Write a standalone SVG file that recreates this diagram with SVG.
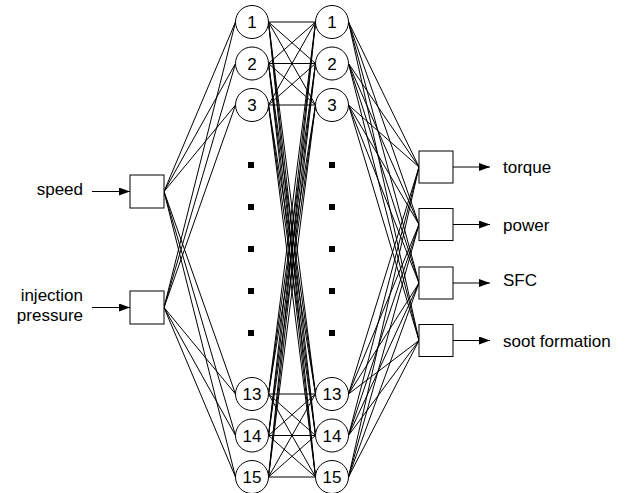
<svg xmlns="http://www.w3.org/2000/svg" width="628" height="493" viewBox="0 0 628 493">
<style>
text{font-family:"Liberation Sans",Arial,sans-serif;font-size:17px;fill:#000}
.n{text-anchor:middle}
.r{text-anchor:end}
circle,rect{fill:#fff;stroke:#000;stroke-width:1}
.c{fill:none;stroke:#000;stroke-width:1}
.dot{fill:#000}
</style>
<defs>
<marker id="ah" markerWidth="12" markerHeight="8" refX="11" refY="4" orient="auto" markerUnits="userSpaceOnUse">
<path d="M0 0L11 4L0 8z" fill="#000"/>
</marker>
</defs>
<g id="connectors">
<path class="c" d="M164 191.5L235.5 22M164 191.5L235.5 63.5M164 191.5L235.5 105M164 191.5L235.5 394M164 191.5L235.5 435.5M164 191.5L235.5 477"/>
<path class="c" d="M164 307.5L235.5 22M164 307.5L235.5 63.5M164 307.5L235.5 105M164 307.5L235.5 394M164 307.5L235.5 435.5M164 307.5L235.5 477"/>
<path class="c" d="M268.5 22L315.5 22M268.5 22L315.5 63.5M268.5 22L315.5 105M268.5 22L315.5 394M268.5 22L315.5 435.5M268.5 22L315.5 477"/>
<path class="c" d="M268.5 63.5L315.5 22M268.5 63.5L315.5 63.5M268.5 63.5L315.5 105M268.5 63.5L315.5 394M268.5 63.5L315.5 435.5M268.5 63.5L315.5 477"/>
<path class="c" d="M268.5 105L315.5 22M268.5 105L315.5 63.5M268.5 105L315.5 105M268.5 105L315.5 394M268.5 105L315.5 435.5M268.5 105L315.5 477"/>
<path class="c" d="M268.5 394L315.5 22M268.5 394L315.5 63.5M268.5 394L315.5 105M268.5 394L315.5 394M268.5 394L315.5 435.5M268.5 394L315.5 477"/>
<path class="c" d="M268.5 435.5L315.5 22M268.5 435.5L315.5 63.5M268.5 435.5L315.5 105M268.5 435.5L315.5 394M268.5 435.5L315.5 435.5M268.5 435.5L315.5 477"/>
<path class="c" d="M268.5 477L315.5 22M268.5 477L315.5 63.5M268.5 477L315.5 105M268.5 477L315.5 394M268.5 477L315.5 435.5M268.5 477L315.5 477"/>
<path class="c" d="M348.5 22L419 167M348.5 22L419 224.5M348.5 22L419 283M348.5 22L419 340.5"/>
<path class="c" d="M348.5 63.5L419 167M348.5 63.5L419 224.5M348.5 63.5L419 283M348.5 63.5L419 340.5"/>
<path class="c" d="M348.5 105L419 167M348.5 105L419 224.5M348.5 105L419 283M348.5 105L419 340.5"/>
<path class="c" d="M348.5 394L419 167M348.5 394L419 224.5M348.5 394L419 283M348.5 394L419 340.5"/>
<path class="c" d="M348.5 435.5L419 167M348.5 435.5L419 224.5M348.5 435.5L419 283M348.5 435.5L419 340.5"/>
<path class="c" d="M348.5 477L419 167M348.5 477L419 224.5M348.5 477L419 283M348.5 477L419 340.5"/>
<line class="c" x1="92" y1="191.5" x2="130" y2="191.5" marker-end="url(#ah)"/>
<line class="c" x1="92" y1="307.5" x2="130" y2="307.5" marker-end="url(#ah)"/>
<line class="c" x1="453" y1="167" x2="490" y2="167" marker-end="url(#ah)"/>
<line class="c" x1="453" y1="224.5" x2="490" y2="224.5" marker-end="url(#ah)"/>
<line class="c" x1="453" y1="283" x2="490" y2="283" marker-end="url(#ah)"/>
<line class="c" x1="453" y1="340.5" x2="490" y2="340.5" marker-end="url(#ah)"/>
</g>
<g id="in-speed"><rect x="130" y="175" width="34" height="33"/><text class="r" x="83" y="195">speed</text></g>
<g id="in-injection"><rect x="130" y="291" width="34" height="33"/><text class="r" x="83" y="301">injection</text><text class="r" x="83" y="321">pressure</text></g>
<g id="h1-1"><circle cx="252" cy="22" r="16.5"/><text class="n" x="252" y="28">1</text></g>
<g id="h1-2"><circle cx="252" cy="63.5" r="16.5"/><text class="n" x="252" y="69.5">2</text></g>
<g id="h1-3"><circle cx="252" cy="105" r="16.5"/><text class="n" x="252" y="111">3</text></g>
<g id="h1-13"><circle cx="252" cy="394" r="16.5"/><text class="n" x="252" y="400">13</text></g>
<g id="h1-14"><circle cx="252" cy="435.5" r="16.5"/><text class="n" x="252" y="441.5">14</text></g>
<g id="h1-15"><circle cx="252" cy="477" r="16.5"/><text class="n" x="252" y="483">15</text></g>
<g id="h2-1"><circle cx="332" cy="22" r="16.5"/><text class="n" x="332" y="28">1</text></g>
<g id="h2-2"><circle cx="332" cy="63.5" r="16.5"/><text class="n" x="332" y="69.5">2</text></g>
<g id="h2-3"><circle cx="332" cy="105" r="16.5"/><text class="n" x="332" y="111">3</text></g>
<g id="h2-13"><circle cx="332" cy="394" r="16.5"/><text class="n" x="332" y="400">13</text></g>
<g id="h2-14"><circle cx="332" cy="435.5" r="16.5"/><text class="n" x="332" y="441.5">14</text></g>
<g id="h2-15"><circle cx="332" cy="477" r="16.5"/><text class="n" x="332" y="483">15</text></g>
<g id="dots">
<rect class="dot" x="248.5" y="162.5" width="5" height="5" stroke="none"/>
<rect class="dot" x="248.5" y="204.5" width="5" height="5" stroke="none"/>
<rect class="dot" x="248.5" y="246.5" width="5" height="5" stroke="none"/>
<rect class="dot" x="248.5" y="288.5" width="5" height="5" stroke="none"/>
<rect class="dot" x="248.5" y="330.5" width="5" height="5" stroke="none"/>
<rect class="dot" x="329.5" y="162.5" width="5" height="5" stroke="none"/>
<rect class="dot" x="329.5" y="204.5" width="5" height="5" stroke="none"/>
<rect class="dot" x="329.5" y="246.5" width="5" height="5" stroke="none"/>
<rect class="dot" x="329.5" y="288.5" width="5" height="5" stroke="none"/>
<rect class="dot" x="329.5" y="330.5" width="5" height="5" stroke="none"/>
</g>
<g id="out-torque"><rect x="419" y="151" width="34" height="32"/><text x="503" y="173">torque</text></g>
<g id="out-power"><rect x="419" y="208.5" width="34" height="32"/><text x="503" y="230.5">power</text></g>
<g id="out-sfc"><rect x="419" y="267" width="34" height="32"/><text x="503" y="286">SFC</text></g>
<g id="out-soot"><rect x="419" y="324.5" width="34" height="32"/><text x="503" y="346.5">soot formation</text></g>
</svg>
